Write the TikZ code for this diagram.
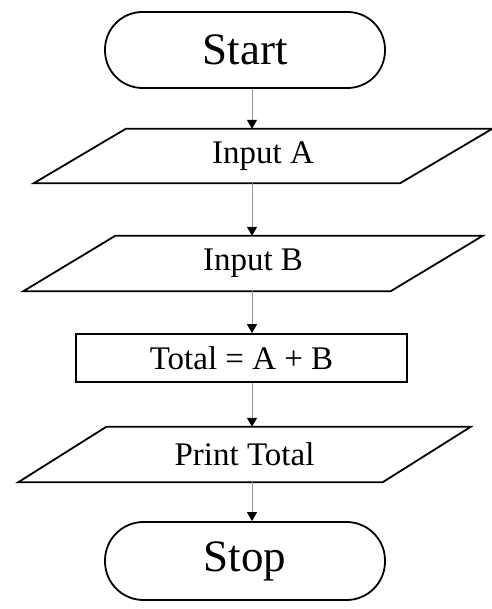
\documentclass[tikz,border=0pt]{standalone}
\usepackage{fontspec}
\setmainfont{Liberation Serif}
\usetikzlibrary{arrows.meta}
\begin{document}
\begin{tikzpicture}[x=1pt,y=-1pt,
  term/.style={draw, line width=1.8pt, rounded corners=37.5pt, minimum width=280pt, minimum height=76pt, inner sep=0pt, font=\fontsize{45}{50}\selectfont},
  io/.style={minimum height=54pt, inner sep=0pt, font=\fontsize{33}{38}\selectfont},
  proc/.style={draw, line width=1.8pt, minimum width=331pt, minimum height=48pt, inner sep=0pt, font=\fontsize{33}{38}\selectfont},
  shapeline/.style={draw, line width=1.8pt, line join=miter},
  arr/.style={draw=gray!85, line width=1pt, -{Triangle[length=9pt,width=10pt,fill=black,color=black]}}]
\fill[white] (0,0) rectangle (491,609);
\useasboundingbox (0,0) rectangle (491,609);
\coordinate (ax) at (252,0);
% Start
\node[term] (start) at (245,50) {Start};
% Input A
\node[io, minimum width=366pt] (ina) at (263,156) {Input A};
\draw[shapeline] ([xshift=-46pt]ina.south west) -- ([xshift=46pt]ina.north west) -- ([xshift=46pt]ina.north east) -- ([xshift=-46pt]ina.south east) -- cycle;
% Input B
\node[io, minimum width=367pt, minimum height=55pt] (inb) at (253,263.5) {Input B};
\draw[shapeline] ([xshift=-46pt]inb.south west) -- ([xshift=46pt]inb.north west) -- ([xshift=46pt]inb.north east) -- ([xshift=-46pt]inb.south east) -- cycle;
% Total
\node[proc] (tot) at (241.5,358) {Total = A + B};
% Print Total
\node[io, minimum width=364pt, minimum height=55pt] (prt) at (244.5,454.5) {Print Total};
\draw[shapeline] ([xshift=-44pt]prt.south west) -- ([xshift=44pt]prt.north west) -- ([xshift=44pt]prt.north east) -- ([xshift=-44pt]prt.south east) -- cycle;
% Stop
\node[term, minimum height=78pt, rounded corners=38.5pt] (stop) at (245,561) {Stop};
% arrows
\draw[arr] (start.south -| ax) -- (ina.north -| ax);
\draw[arr] (ina.south -| ax) -- (inb.north -| ax);
\draw[arr] (inb.south -| ax) -- (tot.north -| ax);
\draw[arr] (tot.south -| ax) -- (prt.north -| ax);
\draw[arr] (prt.south -| ax) -- (stop.north -| ax);
\end{tikzpicture}
\end{document}
